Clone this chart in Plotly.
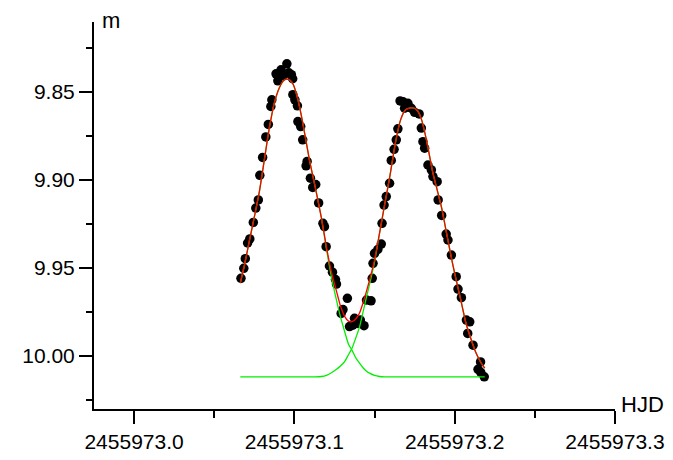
import plotly.graph_objects as go

HJD0 = 2455973.0

# observed points: HJD offsets from HJD0 and magnitudes
obs_dt = [0.06669, 0.06844, 0.06938, 0.07081, 0.07219, 0.07438, 0.07594, 0.07750, 0.07844, 0.08019,
          0.08219, 0.08375, 0.08531, 0.08594, 0.08856, 0.08969, 0.09169, 0.09313, 0.09531, 0.09656,
          0.09813, 0.09894, 0.09906, 0.10031, 0.10188, 0.10219, 0.10394, 0.10519, 0.10731, 0.10794,
          0.11000, 0.11144, 0.11331, 0.11513, 0.11781, 0.11875, 0.11981, 0.12188, 0.12375, 0.12563,
          0.12625, 0.12919, 0.13031, 0.13306, 0.13438, 0.13644, 0.13750, 0.13956, 0.14113, 0.14344,
          0.14500, 0.14781, 0.14856, 0.14906, 0.15000, 0.15206, 0.15419, 0.15469, 0.15594, 0.15731,
          0.15938, 0.16044, 0.16219, 0.16356, 0.16456, 0.16594, 0.16781, 0.16875, 0.17081, 0.17294,
          0.17500, 0.17781, 0.17919, 0.18019, 0.18125, 0.18331, 0.18544, 0.18644, 0.18906, 0.18969,
          0.19188, 0.19469, 0.19581, 0.19794, 0.20094, 0.20206, 0.20419, 0.20731, 0.20938, 0.20813,
          0.21144, 0.21613, 0.21456, 0.21625, 0.21844]
obs_m = [9.9560, 9.9503, 9.9448, 9.9359, 9.9336, 9.9242, 9.9160, 9.9114, 9.8974, 9.8872,
         9.8755, 9.8684, 9.8582, 9.8544, 9.8396, 9.8436, 9.8373, 9.8407, 9.8339, 9.8390,
         9.8401, 9.8424, 9.8515, 9.8544, 9.8578, 9.8668, 9.8696, 9.8772, 9.8920, 9.8895,
         9.8990, 9.9043, 9.9026, 9.9131, 9.9247, 9.9266, 9.9380, 9.9490, 9.9525, 9.9567,
         9.9593, 9.9760, 9.9738, 9.9674, 9.9835, 9.9827, 9.9788, 9.9817, 9.9798, 9.9830,
         9.9684, 9.9688, 9.9560, 9.9475, 9.9418, 9.9396, 9.9365, 9.9247, 9.9143, 9.9095,
         9.9019, 9.8889, 9.8826, 9.8772, 9.8709, 9.8550, 9.8555, 9.8592, 9.8564, 9.8592,
         9.8615, 9.8624, 9.8705, 9.8782, 9.8819, 9.8915, 9.8943, 9.8981, 9.9010, 9.9114,
         9.9202, 9.9308, 9.9342, 9.9428, 9.9551, 9.9621, 9.9670, 9.9798, 9.9808, 9.9874,
         9.9941, 10.0036, 10.0078, 10.0095, 10.0121]

# fitted curves
fit_dt = [0.06625, 0.06875, 0.07188, 0.07500, 0.07813, 0.08125, 0.08438, 0.08750, 0.09063, 0.09313,
          0.09500, 0.09688, 0.09938, 0.10188, 0.10500, 0.10938, 0.11313, 0.11688, 0.12000, 0.12313,
          0.12625, 0.12875, 0.13125, 0.13375, 0.13594, 0.13844, 0.14063, 0.14281, 0.14500, 0.14688,
          0.15000, 0.15313, 0.15625, 0.15938, 0.16313, 0.16625, 0.16938, 0.17250, 0.17500, 0.17688,
          0.17938, 0.18250, 0.18625, 0.18938, 0.19188, 0.19563, 0.19875, 0.20125, 0.20438, 0.20688,
          0.21000, 0.21313, 0.21625, 0.21875]
fit_total = [9.9587, 9.9490, 9.9348, 9.9211, 9.9068, 9.8886, 9.8704, 9.8561, 9.8475, 9.8436,
             9.8426, 9.8430, 9.8458, 9.8532, 9.8664, 9.8886, 9.9046, 9.9217, 9.9382, 9.9525,
             9.9633, 9.9718, 9.9775, 9.9804, 9.9807, 9.9790, 9.9758, 9.9701, 9.9633, 9.9570,
             9.9456, 9.9302, 9.9143, 9.8989, 9.8783, 9.8658, 9.8601, 9.8590, 9.8592, 9.8607,
             9.8658, 9.8778, 9.8954, 9.9068, 9.9160, 9.9336, 9.9479, 9.9582, 9.9707, 9.9810,
             9.9901, 9.9981, 10.0038, 10.0072]
fit_comp1 = [9.9587, 9.9490, 9.9348, 9.9211, 9.9068, 9.8886, 9.8704, 9.8561, 9.8475, 9.8436,
             9.8426, 9.8430, 9.8458, 9.8532, 9.8664, 9.8886, 9.9046, 9.9217, 9.9393, 9.9553,
             9.9684, 9.9780, 9.9860, 9.9935, 9.9969, 10.0015, 10.0043, 10.0069, 10.0089, 10.0100,
             10.0113, 10.0119, 10.0121, 10.0121, 10.0121, 10.0121, 10.0121, 10.0121, 10.0121, 10.0121,
             10.0121, 10.0121, 10.0121, 10.0121, 10.0121, 10.0121, 10.0121, 10.0121, 10.0121, 10.0121,
             10.0121, 10.0121, 10.0121, 10.0121]
fit_comp2 = [10.0121, 10.0121, 10.0121, 10.0121, 10.0121, 10.0121, 10.0121, 10.0121, 10.0121, 10.0121,
             10.0121, 10.0121, 10.0121, 10.0121, 10.0121, 10.0121, 10.0121, 10.0119, 10.0112, 10.0098,
             10.0078, 10.0059, 10.0036, 9.9995, 9.9958, 9.9896, 9.9838, 9.9753, 9.9665, 9.9595,
             9.9466, 9.9304, 9.9143, 9.8989, 9.8783, 9.8658, 9.8601, 9.8590, 9.8592, 9.8607,
             9.8658, 9.8778, 9.8954, 9.9068, 9.9160, 9.9336, 9.9479, 9.9582, 9.9707, 9.9810,
             9.9901, 9.9981, 10.0038, 10.0072]

x_tickvals = [2455973.0, 2455973.1, 2455973.2, 2455973.3]
x_ticktext = ["2455973.0", "2455973.1", "2455973.2", "2455973.3"]
x_minorvals = [2455973.05, 2455973.15, 2455973.25]
y_tickvals = [9.85, 9.90, 9.95, 10.00]
y_ticktext = ["9.85", "9.90", "9.95", "10.00"]
y_minorvals = [9.825, 9.875, 9.925, 9.975, 10.025]

obs_x = [HJD0 + d for d in obs_dt]
fit_x = [HJD0 + d for d in fit_dt]

FONT = "Arial, Liberation Sans, sans-serif"

fig = go.Figure()
fig.add_trace(go.Scatter(x=obs_x, y=obs_m, mode="markers",
                         marker=dict(color="black", size=9.5, symbol="circle",
                                     line=dict(width=0))))
fig.add_trace(go.Scatter(x=fit_x, y=fit_comp1, mode="lines", line_shape="spline",
                         line=dict(color="#00ee00", width=1.3, smoothing=0.6)))
fig.add_trace(go.Scatter(x=fit_x, y=fit_comp2, mode="lines", line_shape="spline",
                         line=dict(color="#00ee00", width=1.3, smoothing=0.6)))
fig.add_trace(go.Scatter(x=fit_x, y=fit_total, mode="lines", line_shape="spline",
                         line=dict(color="#ff0000", width=1.3, smoothing=0.6)))

axis_common = dict(showline=True, linecolor="black", linewidth=2, showgrid=False,
                   zeroline=False, ticks="outside", tickcolor="black", tickwidth=2,
                   automargin=False,
                   tickfont=dict(family=FONT, size=21, color="black"))

fig.update_xaxes(range=[2455972.975, 2455973.3], tickmode="array",
                 tickvals=x_tickvals, ticktext=x_ticktext, ticklen=13,
                 minor=dict(tickmode="array", tickvals=x_minorvals, ticks="outside",
                            ticklen=7, tickwidth=2, tickcolor="black"),
                 **axis_common)
fig.update_yaxes(range=[10.0304, 9.8101], tickmode="array",
                 tickvals=y_tickvals, ticktext=y_ticktext, ticklen=13,
                 minor=dict(tickmode="array", tickvals=y_minorvals, ticks="outside",
                            ticklen=6, tickwidth=2, tickcolor="black"),
                 **axis_common)

fig.add_annotation(text="m", xref="paper", yref="paper", x=0.012, y=1.004,
                   xanchor="left", yanchor="middle", showarrow=False,
                   font=dict(family=FONT, size=22, color="black"))
fig.add_annotation(text="HJD", xref="paper", yref="paper", x=1.098, y=0.011,
                   xanchor="right", yanchor="middle", showarrow=False,
                   font=dict(family=FONT, size=22, color="black"))

# the page body adds an 8px offset, so the figure is sized to the visible area
fig.update_layout(width=665, height=452, showlegend=False,
                  margin=dict(l=86, r=58, t=14, b=51, autoexpand=False),
                  paper_bgcolor="white", plot_bgcolor="white")

fig.write_html("out.html")
